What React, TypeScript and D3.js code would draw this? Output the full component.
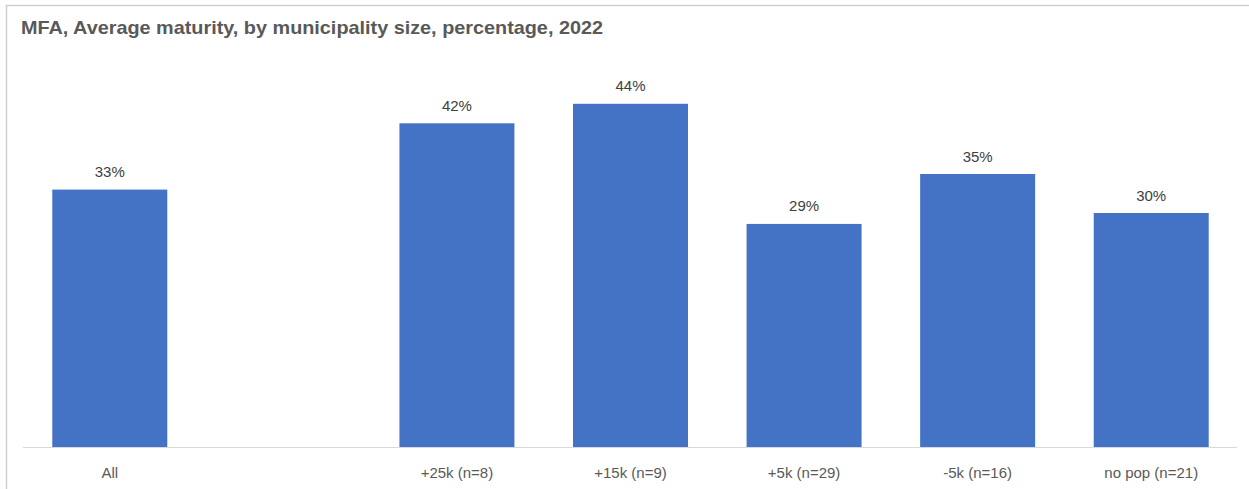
import React from "react";
import * as d3 from "d3";

const categories = ["All", "", "+25k (n=8)", "+15k (n=9)", "+5k (n=29)", "-5k (n=16)", "no pop (n=21)"];
const values: (number | null)[] = [33, null, 41.5, 44, 28.6, 35, 30];
const valueLabels = ["33%", "", "42%", "44%", "29%", "35%", "30%"];
const chartTitle = "MFA, Average maturity, by municipality size, percentage, 2022";

const W = 1249;
const H = 489;

export default function App() {
  const keys = categories.map((c, i) => c || `blank-${i}`);
  const x = d3
    .scaleBand<string>()
    .domain(keys)
    .range([23, 1238])
    .paddingInner(0.3375)
    .paddingOuter(0.3375 / 2);
  const y = d3.scaleLinear().domain([0, 50]).range([447, 57]);
  const font = "'Liberation Sans', Arial, sans-serif";

  return (
    <svg
      width={W}
      height={H}
      style={{ position: "absolute", left: 0, top: 0, background: "#fff" }}
    >
      <rect x={0} y={0} width={W} height={H} fill="#fff" />
      <rect x={6.5} y={5.5} width={1400} height={700} fill="#fff" stroke="#d0d0d0" strokeWidth={1.5} />
      <text
        x={21}
        y={34}
        fontFamily={font}
        fontWeight="bold"
        fontSize={18.5}
        fill="#595959"
        textLength={582}
        lengthAdjust="spacingAndGlyphs"
      >
        {chartTitle}
      </text>
      {keys.map((k, i) => {
        const v = values[i];
        if (v == null) return null;
        const bx = x(k)!;
        return (
          <g key={k}>
            <rect x={bx} y={y(v)} width={x.bandwidth()} height={y(0) - y(v)} fill="#4472c4" />
            <text
              x={bx + x.bandwidth() / 2}
              y={y(v) - 12.5}
              textAnchor="middle"
              fontFamily={font}
              fontSize={15}
              fill="#404040"
            >
              {valueLabels[i]}
            </text>
          </g>
        );
      })}
      <line x1={23} x2={1237} y1={y(0) + 0.5} y2={y(0) + 0.5} stroke="#d9d9d9" strokeWidth={1} />
      {keys.map((k, i) =>
        categories[i] ? (
          <text
            key={"l" + k}
            x={x(k)! + x.bandwidth() / 2}
            y={478}
            textAnchor="middle"
            fontFamily={font}
            fontSize={15}
            fill="#595959"
          >
            {categories[i]}
          </text>
        ) : null
      )}
    </svg>
  );
}
